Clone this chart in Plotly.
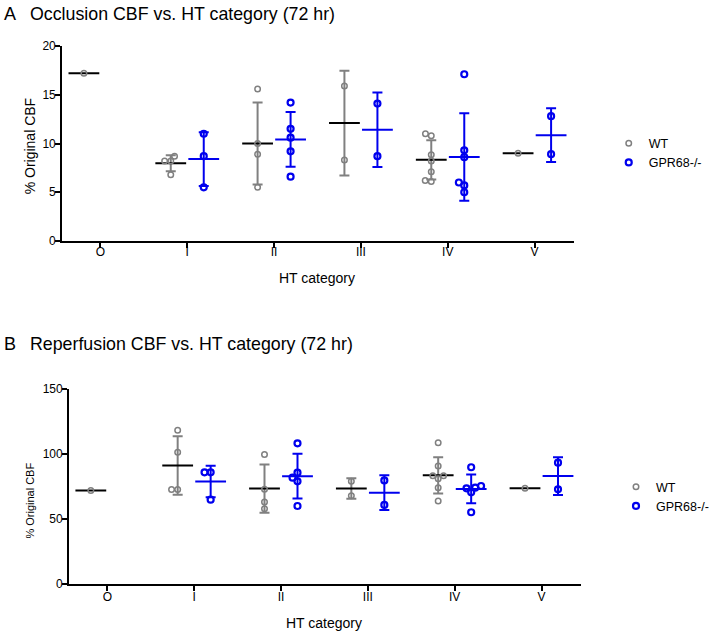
import numpy as np
import plotly.graph_objects as go

# ---------------- data ----------------
categories = ["O", "I", "II", "III", "IV", "V"]
group_names = ["WT", "GPR68-/-"]

# Panel A: Occlusion CBF (% original), per HT category
occ_wt = [[17.2], [8.2, 8.2, 8.7, 6.8], [15.6, 10.0, 8.9, 5.5], [15.9, 8.3],
          [11.0, 10.8, 8.85, 8.2, 7.1, 6.2, 6.1], [9.0]]
occ_ko = [[], [11.0, 8.7, 5.5], [14.2, 11.5, 10.6, 9.2, 6.6], [14.1, 8.7],
          [17.1, 9.3, 8.6, 6.0, 5.7, 5.0], [12.8, 8.9]]

# Panel B: Reperfusion CBF (% original), per HT category
rep_wt = [[72.0], [118.2, 101.3, 72.6, 72.6], [99.7, 72.8, 63.1, 57.9], [79.0, 67.9],
          [108.7, 90.8, 83.3, 83.3, 81.0, 74.1, 63.8], [73.6]]
rep_ko = [[], [85.9, 85.9, 64.9], [108.2, 85.6, 81.8, 79.0, 60.0], [79.7, 60.8],
          [89.8, 75.4, 74.1, 73.6, 70.5, 55.2], [93.3, 72.8]]

occ_ticks = [0, 5, 10, 15, 20]
rep_ticks = [0, 50, 100, 150]

title_a = "Occlusion CBF vs. HT category (72 hr)"
title_b = "Reperfusion CBF vs. HT category (72 hr)"
ytitle = "% Original CBF"
xtitle = "HT category"

# ---------------- layout / style ----------------
W, H = 714, 633
FONT = "Liberation Sans, Arial, Helvetica, sans-serif"
GRAY = "#808080"
BLUE = "#0000EE"
XRANGE = [-0.44, 5.45]
GROUP_SHIFT = 0.19

# pixel boxes (window coordinates)
panels = [
    dict(wt=occ_wt, ko=occ_ko, ticks=occ_ticks, yr=[0, 20], xpx=(63, 581), ypx=(46, 241),
         xa="x", ya="y", legend="legend"),
    dict(wt=rep_wt, ko=rep_ko, ticks=rep_ticks, yr=[0, 150], xpx=(70, 588), ypx=(389, 584),
         xa="x2", ya="y2", legend="legend2"),
]


def px_x(x):
    return x / W


def px_y(y):
    return 1 - y / H


def swarm(vals, ppu, d):
    """Simple beeswarm: horizontal pixel offsets so markers don't overlap."""
    order = sorted(range(len(vals)), key=lambda i: vals[i])
    placed, offs = [], [0.0] * len(vals)
    for i in order:
        y = vals[i] * ppu
        forb = []
        for xo, yo in placed:
            dy = abs(y - yo)
            if dy < d:
                h = (d * d - dy * dy) ** 0.5
                forb.append((xo - h, xo + h))
        cands = [0.0] + [a for a, b in forb] + [b for a, b in forb]
        cands.sort(key=lambda c: (round(abs(c), 6), c))
        for c in cands:
            if all(not (a + 1e-6 < c < b - 1e-6) for a, b in forb):
                offs[i] = c
                break
        placed.append((offs[i], y))
    return offs


fig = go.Figure()

for p in panels:
    ppx = (p["xpx"][1] - p["xpx"][0]) / (XRANGE[1] - XRANGE[0])
    ppy = (p["ypx"][1] - p["ypx"][0]) / (p["yr"][1] - p["yr"][0])
    for gi, (gname, data) in enumerate(zip(group_names, [p["wt"], p["ko"]])):
        color = GRAY if gi == 0 else BLUE
        mean_color = "black" if gi == 0 else BLUE
        shift = -GROUP_SHIFT if gi == 0 else GROUP_SHIFT
        ex, ey, es, mx, my, px_, py_ = [], [], [], [], [], [], []
        for ci, vals in enumerate(data):
            if len(vals) == 0:
                continue
            m = float(np.mean(vals))
            mx.append(ci + shift)
            my.append(m)
            if len(vals) > 1:
                ex.append(ci + shift)
                ey.append(m)
                es.append(float(np.std(vals, ddof=1)))
            offs = swarm(vals, ppy, 6.2)
            for v, o in zip(vals, offs):
                px_.append(ci + shift + o / ppx)
                py_.append(v)
        # SD error bars
        fig.add_trace(go.Scatter(
            x=ex, y=ey, mode="markers", marker=dict(size=1, opacity=0),
            error_y=dict(type="data", array=es, visible=True, color=color,
                         thickness=2, width=5),
            xaxis=p["xa"], yaxis=p["ya"], showlegend=False, hoverinfo="skip"))
        # mean lines
        fig.add_trace(go.Scatter(
            x=mx, y=my, mode="markers",
            marker=dict(symbol="line-ew", size=22,
                        line=dict(color=mean_color, width=2)),
            xaxis=p["xa"], yaxis=p["ya"], showlegend=False, hoverinfo="skip"))
        # individual points
        fig.add_trace(go.Scatter(
            x=px_, y=py_, mode="markers", name=gname,
            marker=dict(symbol="circle-open", size=5.5 if gi == 0 else 6,
                        color=color, line=dict(color=color, width=1.5 if gi == 0 else 2.2)),
            xaxis=p["xa"], yaxis=p["ya"], legend=p["legend"], showlegend=True))

axis_common = dict(showline=True, linecolor="black", linewidth=2, ticks="outside",
                   ticklen=5, tickwidth=2, tickcolor="black", showgrid=False,
                   zeroline=False, tickfont=dict(family=FONT, size=12, color="black"),
                   automargin=False, fixedrange=True)

layout = dict(
    width=W, height=H, margin=dict(l=0, r=0, t=0, b=0, pad=0),
    paper_bgcolor="white", plot_bgcolor="white",
    font=dict(family=FONT, color="black"),
    xaxis=dict(domain=[px_x(63), px_x(581)], range=XRANGE, anchor="y",
               tickvals=list(range(len(categories))), ticktext=categories,
               ticklabelstandoff=-6, **axis_common),
    yaxis=dict(domain=[px_y(241), px_y(46)], range=[0, 20], anchor="x",
               tickvals=occ_ticks, ticklabelstandoff=-3, **axis_common),
    xaxis2=dict(domain=[px_x(70), px_x(588)], range=XRANGE, anchor="y2",
                tickvals=list(range(len(categories))), ticktext=categories,
                ticklabelstandoff=-4, **axis_common),
    yaxis2=dict(domain=[px_y(584), px_y(389)], range=[0, 150], anchor="x2",
                tickvals=rep_ticks, ticklabelstandoff=-3, **axis_common),
    legend=dict(x=px_x(616.5), y=px_y(128.5), xanchor="left", yanchor="top",
                font=dict(family=FONT, size=12.5, color="black"),
                bgcolor="rgba(0,0,0,0)", borderwidth=0),
    legend2=dict(x=px_x(624), y=px_y(472), xanchor="left", yanchor="top",
                 font=dict(family=FONT, size=12.5, color="black"),
                 bgcolor="rgba(0,0,0,0)", borderwidth=0),
    showlegend=True,
)
fig.update_layout(**layout)

ann = []


def text(x, y, s, size, xanchor="center", angle=0):
    ann.append(dict(x=px_x(x), y=px_y(y), xref="paper", yref="paper", text=s,
                    showarrow=False, xanchor=xanchor, yanchor="middle", textangle=angle,
                    font=dict(family=FONT, size=size, color="black")))


# panel letters and titles
text(2, 14.5, "A", 18, "left")
text(28, 14.5, title_a, 17.8, "left")
text(2, 343.5, "B", 18, "left")
text(28, 343.5, title_b, 17.8, "left")
# axis titles
text(321, 278, xtitle, 14)
text(328, 623, xtitle, 14)
text(30, 146.7, ytitle, 14, angle=-90)
text(30, 501, ytitle, 11, angle=-90)

fig.update_layout(annotations=ann)

# remove the default page margin so the figure fills the window exactly
fig.write_html("out.html",
               config={"displayModeBar": False, "staticPlot": True},
               post_script="document.body.style.margin='0px';"
                           "document.body.style.overflow='hidden';")
